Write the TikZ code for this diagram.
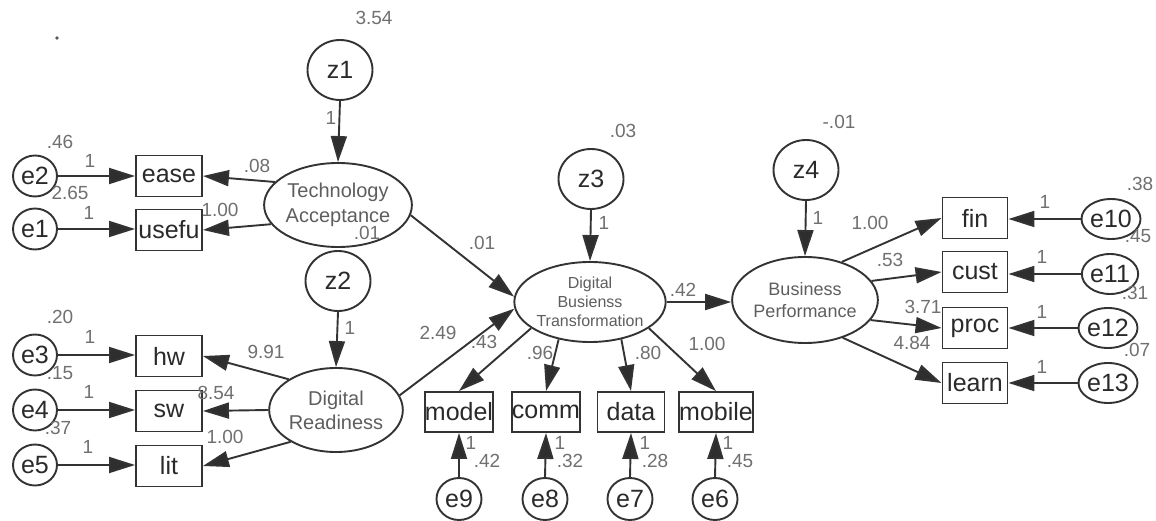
\documentclass[tikz,border=0pt]{standalone}
\usepackage{fontspec}
\setmainfont{Liberation Sans}
\usetikzlibrary{arrows.meta,shapes.geometric}
\definecolor{lc}{HTML}{333333}
\definecolor{ac}{HTML}{2E2E2E}
\definecolor{nc}{HTML}{707070}
\definecolor{bc}{HTML}{2A2A2A}
\definecolor{tc}{HTML}{5E5E5E}
\newcommand\boxf{\fontsize{25}{25}\selectfont}
\newcommand\numf{\fontsize{19}{19}\selectfont}
\tikzset{
  base/.style={draw=lc, line width=1.9pt, inner sep=0pt},
  lat/.style={base, ellipse, text=tc, align=center},
  zc/.style={base, ellipse, minimum width=65pt, minimum height=60pt, font=\boxf, text=bc},
  ec/.style={base, ellipse, minimum width=44pt, minimum height=41pt, font=\boxf, text=bc},
  obs/.style={base, rectangle, minimum width=66pt, minimum height=41pt, font=\boxf, text=bc},
  arr/.style={draw=lc, line width=1.9pt, -{Triangle[length=26pt,width=16pt,fill=ac]}},
  num/.style={font=\numf, text=nc, inner sep=0pt}
}
\begin{document}
\begin{tikzpicture}[x=1pt,y=-1pt]
\useasboundingbox[fill=white] (0,0) rectangle (1156,521);
\fill[gray!70!black] (57,38) circle (1.8);
% latent variables
\node[lat, minimum width=133pt, minimum height=84pt, font=\fontsize{20}{25}\selectfont] (TA) at (338,205) {Technology\\Acceptance};
\node[lat, minimum width=128pt, minimum height=84pt, font=\fontsize{20}{24}\selectfont] (DR) at (336,410) {Digital\\Readiness};
\node[lat, minimum width=134pt, minimum height=80pt, font=\fontsize{16}{19}\selectfont] (DBT) at (590,302) {Digital\\Busienss\\Transformation};
\node[lat, minimum width=134pt, minimum height=86pt, font=\fontsize{18}{22}\selectfont] (BP) at (805,300) {Business\\Performance};
% disturbances
\node[zc] (z1) at (340,70) {z1};
\node[zc] (z2) at (338,281) {z2};
\node[zc] (z3) at (591,179) {z3};
\node[zc] (z4) at (806,170) {z4};
% observed
\node[obs] (ease) at (169,176) {ease};
\node[obs] (usefu) at (169,230) {usefu};
\node[obs] (hw) at (169,356) {hw};
\node[obs] (sw) at (169,411) {sw};
\node[obs] (lit) at (169,466) {lit};
\node[obs, minimum width=65pt, minimum height=40pt] (model) at (459,412) {model};
\node[obs, minimum width=67pt, minimum height=40pt] (comm) at (546,412) {comm};
\node[obs, minimum width=67pt, minimum height=40pt] (data) at (631,412) {data};
\node[obs, minimum width=65pt, minimum height=40pt] (mobile) at (716,412) {mobile};
\node[obs, minimum width=65pt] (fin) at (975,218) {fin};
\node[obs, minimum width=65pt] (cust) at (975,272) {cust};
\node[obs, minimum width=65pt] (proc) at (975,328) {proc};
\node[obs, minimum width=65pt] (learn) at (975,383) {learn};
% errors
\node[ec] (e2) at (35,176) {e2};
\node[ec] (e1) at (35,229) {e1};
\node[ec] (e3) at (35,355) {e3};
\node[ec] (e4) at (35,410) {e4};
\node[ec] (e5) at (35,465) {e5};
\node[ec, minimum width=45pt, minimum height=42pt] (e9) at (459,499) {e9};
\node[ec, minimum width=45pt, minimum height=42pt] (e8) at (545,499) {e8};
\node[ec, minimum width=45pt, minimum height=42pt] (e7) at (630,499) {e7};
\node[ec, minimum width=45pt, minimum height=42pt] (e6) at (715,499) {e6};
\node[ec, minimum width=43pt, minimum height=40pt] (e10) at (1111,219) {e10};
\node[ec, minimum width=43pt, minimum height=40pt] (e11) at (1110,274) {e11};
\node[ec, minimum width=43pt, minimum height=40pt] (e12) at (1108,328) {e12};
\node[ec, minimum width=43pt, minimum height=40pt] (e13) at (1108,383) {e13};
% arrows
\draw[arr] (z1.south) -- (TA.north);
\draw[arr] (TA.160) -- (ease.east);
\draw[arr] (TA.196) -- (usefu.east);
\draw[arr] (e2) -- (ease);
\draw[arr] (e1.east) -- (e1.east -| usefu.west);
\draw[arr] (z2.south) -- (DR.north);
\draw[arr] (DR.147) -- (hw.east);
\draw[arr] (DR.west) -- (sw.east);
\draw[arr] (DR.215) -- (lit.east);
\draw[arr] (e3.east) -- (e3.east -| hw.west);
\draw[arr] (e4.east) -- (e4.east -| sw.west);
\draw[arr] (e5.east) -- (e5.east -| lit.west);
\draw[arr] (TA.352) -- (DBT.176);
\draw[arr] (DR.13) -- (DBT.185);
\draw[arr] (z3.south) -- (DBT.north);
\draw[arr] (DBT.204) -- (model.north);
\draw[arr] (DBT.230) -- (comm.north);
\draw[arr] (DBT.310) -- (data.north);
\draw[arr] (DBT.336) -- (mobile.north);
\draw[arr] (e9.north) -- (model.south);
\draw[arr] (e8.north) -- (comm.south);
\draw[arr] (e7.north) -- (data.south);
\draw[arr] (e6.north) -- (mobile.south);
\draw[arr] (DBT.east) -- (DBT.east -| BP.west);
\draw[arr] (z4.south) -- (BP.north);
\draw[arr] (BP.46) -- (fin.west);
\draw[arr] (BP.16) -- (cust.west);
\draw[arr] (BP.343) -- (proc.west);
\draw[arr] (BP.315) -- (learn.west);
\draw[arr] (e10.west) -- (e10.west -| fin.east);
\draw[arr] (e11.west) -- (e11.west -| cust.east);
\draw[arr] (e12.west) -- (e12.west -| proc.east);
\draw[arr] (e13.west) -- (e13.west -| learn.east);
% labels
\node[num] (l1) at (374,18) {3.54};
\node[num] (l2) at (331,118) {1};
\node[num] (l3) at (60,142) {.46};
\node[num] (l4) at (90,161) {1};
\node[num] (l5) at (70,193) {2.65};
\node[num] (l6) at (89,213) {1};
\node[num] (l7) at (257,166) {.08};
\node[num] (l8) at (220,210) {1.00};
\node[num] (l9) at (367,233) {.01};
\node[num] (l10) at (350,328) {1};
\node[num] (l11) at (60,317) {.20};
\node[num] (l12) at (90,337) {1};
\node[num] (l13) at (60,373) {.15};
\node[num] (l14) at (89,392) {1};
\node[num] (l15) at (58,428) {.37};
\node[num] (l16) at (88,447) {1};
\node[num] (l17) at (266,352) {9.91};
\node[num] (l18) at (216,393) {8.54};
\node[num] (l19) at (225,437) {1.00};
\node[num] (l20) at (482,243) {.01};
\node[num] (l21) at (438,333) {2.49};
\node[num] (l22) at (484,342) {.43};
\node[num] (l23) at (623,131) {.03};
\node[num] (l24) at (604,223) {1};
\node[num] (l25) at (683,290) {.42};
\node[num] (l26) at (540,353) {.96};
\node[num] (l27) at (648,353) {.80};
\node[num] (l28) at (707,344) {1.00};
\node[num] (l29) at (471,443) {1};
\node[num] (l30) at (487,461) {.42};
\node[num] (l31) at (560,443) {1};
\node[num] (l32) at (570,461) {.32};
\node[num] (l33) at (645,443) {1};
\node[num] (l34) at (655,461) {.28};
\node[num] (l35) at (728,443) {1};
\node[num] (l36) at (740,461) {.45};
\node[num] (l37) at (839,122) {-.01};
\node[num] (l38) at (818,218) {1};
\node[num] (l39) at (870,223) {1.00};
\node[num] (l40) at (890,260) {.53};
\node[num] (l41) at (923,307) {3.71};
\node[num] (l42) at (912,343) {4.84};
\node[num] (l43) at (1140,184) {.38};
\node[num] (l44) at (1045,202) {1};
\node[num] (l45) at (1138,236) {.45};
\node[num] (l46) at (1042,257) {1};
\node[num] (l47) at (1135,293) {.31};
\node[num] (l48) at (1042,312) {1};
\node[num] (l49) at (1137,350) {.07};
\node[num] (l50) at (1042,367) {1};
\end{tikzpicture}
\end{document}
